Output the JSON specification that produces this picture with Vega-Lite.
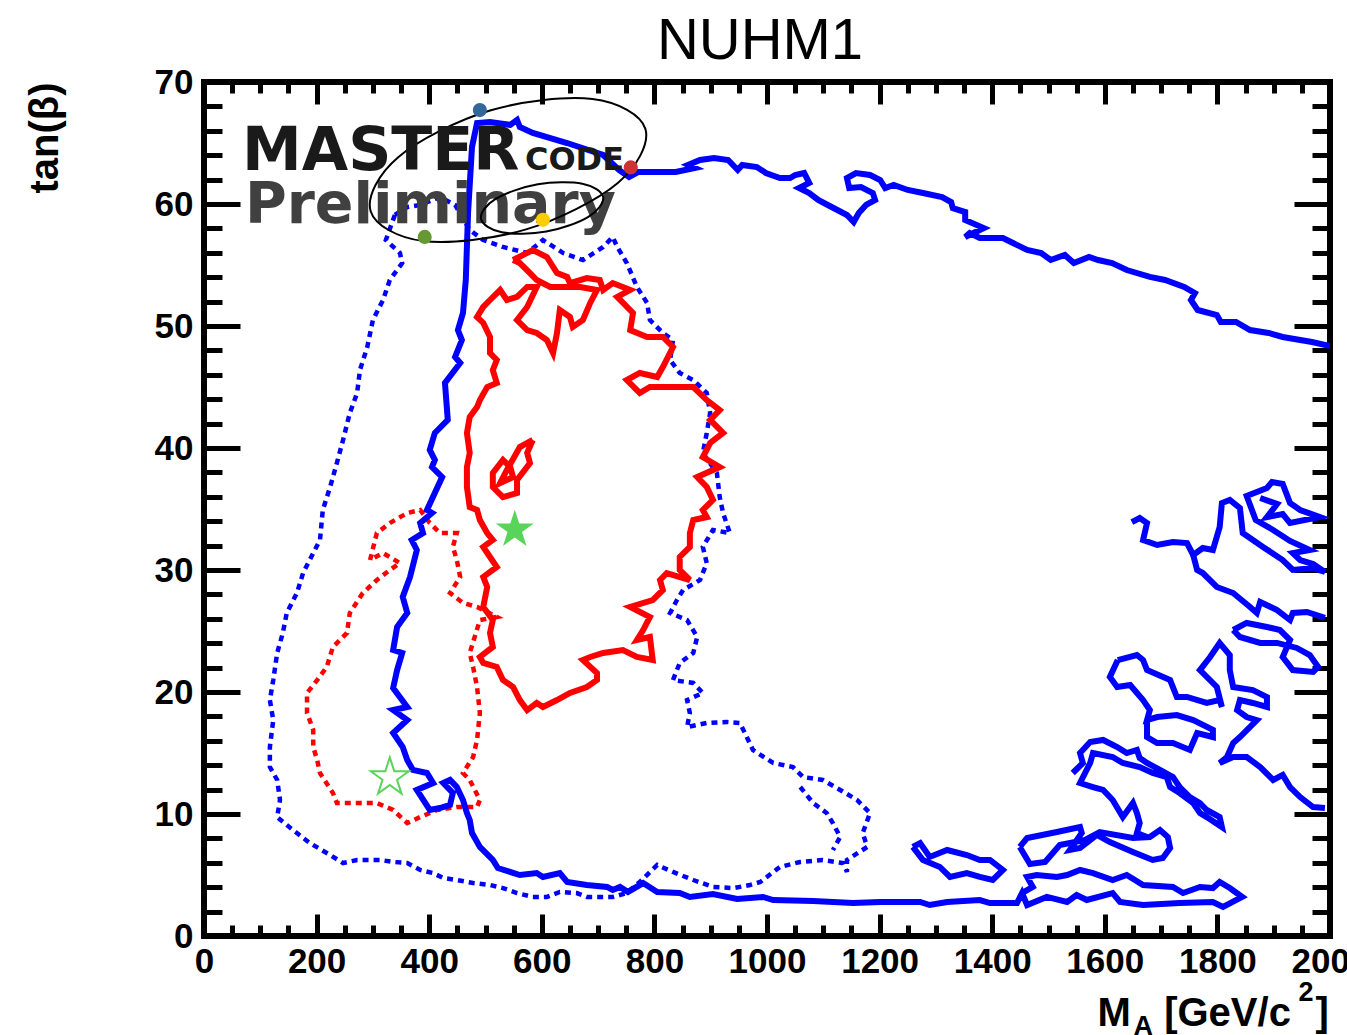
{
"$schema": "https://vega.github.io/schema/vega-lite/v6.json",
"width": 1126, "height": 854,
"autosize": {"type": "none"},
"padding": {"left": 204, "top": 82, "right": 17, "bottom": 99},
"background": "white",
"title": {"text": "NUHM1", "fontSize": 58, "font": "Liberation Sans", "fontWeight": "normal", "color": "black", "anchor": "middle", "frame": "group", "offset": 7, "baseline": "alphabetic", "dx": -7, "dy": 59},
"config": {
  "view": {"stroke": "black", "strokeWidth": 6},
  "axis": {"domain": false, "grid": false, "tickColor": "black", "tickWidth": 5, "tickCap": "butt", "labelFont": "Liberation Sans", "labelFontWeight": "bold", "labelFontSize": 35, "labelColor": "black", "labelFlush": false, "labelOverlap": false, "titleFont": "Liberation Sans", "titleFontWeight": "bold", "titleFontSize": 40, "titleColor": "black"}
},
"datasets": {
"bd": [
{"g":"a","x":339,"y":59.1},{"g":"a","x":323,"y":57.05},{"g":"a","x":348,"y":55.98},{"g":"a","x":352,"y":55.16},{"g":"a","x":330,"y":53.77},{"g":"a","x":318,"y":52.13},{"g":"a","x":300,"y":50.49},{"g":"a","x":290,"y":48.28},{"g":"a","x":277,"y":46.39},{"g":"a","x":272,"y":44.51},{"g":"a","x":259,"y":42.87},{"g":"a","x":247,"y":40.66},{"g":"a","x":236,"y":38.77},{"g":"a","x":224,"y":36.8},{"g":"a","x":211,"y":34.92},{"g":"a","x":206,"y":32.46},{"g":"a","x":194,"y":31.39},{"g":"a","x":176,"y":29.75},{"g":"a","x":165,"y":28.11},{"g":"a","x":147,"y":26.48},{"g":"a","x":140,"y":24.84},{"g":"a","x":130,"y":23.2},{"g":"a","x":123,"y":20.98},{"g":"a","x":117,"y":19.34},{"g":"a","x":123,"y":17.7},{"g":"a","x":117,"y":15.49},{"g":"a","x":117,"y":13.85},{"g":"a","x":130,"y":12.79},{"g":"a","x":135,"y":11.15},{"g":"a","x":130,"y":9.75},{"g":"a","x":158,"y":8.69},{"g":"a","x":188,"y":7.62},{"g":"a","x":224,"y":6.64},{"g":"a","x":247,"y":5.98},{"g":"a","x":272,"y":6.23},{"g":"a","x":313,"y":6.23},{"g":"a","x":336,"y":6.07},{"g":"a","x":361,"y":5.98},{"g":"a","x":384,"y":5.41},{"g":"a","x":407,"y":5.16},{"g":"a","x":425,"y":4.75},{"g":"a","x":449,"y":4.59},{"g":"a","x":478,"y":4.34},{"g":"a","x":508,"y":4.18},{"g":"a","x":531,"y":3.93},{"g":"a","x":556,"y":3.52},{"g":"a","x":584,"y":3.2},{"g":"a","x":609,"y":3.2},{"g":"a","x":632,"y":3.61},{"g":"a","x":662,"y":3.52},{"g":"a","x":680,"y":3.2},{"g":"a","x":726,"y":3.2},{"g":"a","x":751,"y":3.52},{"g":"a","x":774,"y":4.43},{"g":"a","x":805,"y":5.82},{"g":"a","x":833,"y":5.25},{"g":"a","x":869,"y":4.59},{"g":"a","x":904,"y":4.02},{"g":"a","x":940,"y":3.93},{"g":"a","x":970,"y":4.18},{"g":"a","x":988,"y":4.43},{"g":"a","x":1023,"y":5.66},{"g":"a","x":1059,"y":6.07},{"g":"a","x":1099,"y":6.23},{"g":"a","x":1135,"y":5.98},{"g":"a","x":1142,"y":5.25},{"g":"a","x":1142,"y":6.23},{"g":"a","x":1178,"y":7.3},{"g":"a","x":1170,"y":8.44},{"g":"a","x":1183,"y":10.08},{"g":"a","x":1160,"y":11.15},{"g":"a","x":1130,"y":11.97},{"g":"a","x":1099,"y":12.79},{"g":"a","x":1064,"y":13.03},{"g":"a","x":1046,"y":13.85},{"g":"a","x":1011,"y":14.18},{"g":"a","x":975,"y":15.25},{"g":"a","x":964,"y":16.31},{"g":"a","x":952,"y":17.46},{"g":"a","x":929,"y":17.54},{"g":"a","x":893,"y":17.46},{"g":"a","x":858,"y":17.13},{"g":"a","x":863,"y":18.28},{"g":"a","x":858,"y":19.34},{"g":"a","x":886,"y":19.92},{"g":"a","x":869,"y":20.74},{"g":"a","x":833,"y":20.98},{"g":"a","x":845,"y":22.38},{"g":"a","x":869,"y":23.2},{"g":"a","x":876,"y":24.51},{"g":"a","x":858,"y":25.9},{"g":"a","x":828,"y":26.48},{"g":"a","x":840,"y":27.54},{"g":"a","x":851,"y":28.36},{"g":"a","x":881,"y":29.18},{"g":"a","x":893,"y":30.57},{"g":"a","x":886,"y":31.89},{"g":"a","x":904,"y":33.28},{"g":"a","x":934,"y":33.03},{"g":"a","x":922,"y":34.67},{"g":"a","x":916,"y":35.98},{"g":"a","x":911,"y":37.95},{"g":"a","x":886,"y":39.59},{"g":"a","x":893,"y":41.23},{"g":"a","x":899,"y":42.87},{"g":"a","x":893,"y":44.51},{"g":"a","x":869,"y":45.57},{"g":"a","x":845,"y":46.15},{"g":"a","x":828,"y":47.21},{"g":"a","x":833,"y":48.85},{"g":"a","x":815,"y":49.43},{"g":"a","x":792,"y":50.49},{"g":"a","x":787,"y":51.89},{"g":"a","x":769,"y":53.2},{"g":"a","x":751,"y":55.16},{"g":"a","x":734,"y":56.48},{"g":"a","x":726,"y":57.3},{"g":"a","x":709,"y":56.48},{"g":"a","x":673,"y":55.41},{"g":"a","x":638,"y":55.98},{"g":"a","x":602,"y":57.05},{"g":"a","x":574,"y":55.98},{"g":"a","x":531,"y":56.48},{"g":"a","x":496,"y":57.05},{"g":"a","x":472,"y":57.87},{"g":"a","x":446,"y":59.92},{"g":"a","x":419,"y":60.57},{"g":"a","x":384,"y":59.92},{"g":"a","x":361,"y":59.75},{"g":"a","x":339,"y":59.1},
{"g":"b","x":1059,"y":12.21},{"g":"b","x":1082,"y":10.9},{"g":"b","x":1106,"y":10.08},{"g":"b","x":1117,"y":9.26},{"g":"b","x":1130,"y":8.11},{"g":"b","x":1117,"y":7.05}
],
"rd": [
{"g":"a","x":295,"y":30.82},{"g":"a","x":307,"y":33.03},{"g":"a","x":330,"y":33.85},{"g":"a","x":361,"y":34.67},{"g":"a","x":384,"y":34.92},{"g":"a","x":401,"y":33.85},{"g":"a","x":419,"y":33.03},{"g":"a","x":449,"y":33.03},{"g":"a","x":442,"y":31.89},{"g":"a","x":449,"y":30.82},{"g":"a","x":455,"y":29.43},{"g":"a","x":437,"y":28.11},{"g":"a","x":460,"y":27.3},{"g":"a","x":485,"y":26.97},{"g":"a","x":520,"y":26.15},{"g":"a","x":490,"y":25.9},{"g":"a","x":472,"y":23.2},{"g":"a","x":478,"y":22.05},{"g":"a","x":485,"y":20.41},{"g":"a","x":490,"y":18.28},{"g":"a","x":485,"y":16.07},{"g":"a","x":478,"y":14.67},{"g":"a","x":460,"y":13.36},{"g":"a","x":472,"y":12.79},{"g":"a","x":490,"y":11.15},{"g":"a","x":485,"y":10.57},{"g":"a","x":449,"y":10.57},{"g":"a","x":414,"y":10.33},{"g":"a","x":384,"y":9.75},{"g":"a","x":361,"y":9.26},{"g":"a","x":336,"y":10.33},{"g":"a","x":307,"y":10.9},{"g":"a","x":272,"y":10.9},{"g":"a","x":236,"y":10.9},{"g":"a","x":229,"y":11.72},{"g":"a","x":206,"y":13.36},{"g":"a","x":201,"y":14.43},{"g":"a","x":194,"y":15.49},{"g":"a","x":194,"y":16.89},{"g":"a","x":183,"y":18.28},{"g":"a","x":183,"y":19.92},{"g":"a","x":201,"y":20.98},{"g":"a","x":218,"y":22.05},{"g":"a","x":229,"y":23.69},{"g":"a","x":254,"y":24.84},{"g":"a","x":259,"y":26.48},{"g":"a","x":282,"y":28.11},{"g":"a","x":307,"y":29.18},{"g":"a","x":330,"y":30},{"g":"a","x":348,"y":30.57},{"g":"a","x":318,"y":31.39},{"g":"a","x":295,"y":30.82}
],
"bs": [
{"g":"b1","x":2000,"y":48.36},{"g":"b1","x":1968,"y":48.69},{"g":"b1","x":1916,"y":49.1},{"g":"b1","x":1891,"y":49.43},{"g":"b1","x":1858,"y":49.67},{"g":"b1","x":1833,"y":50.33},{"g":"b1","x":1806,"y":50.33},{"g":"b1","x":1799,"y":50.9},{"g":"b1","x":1765,"y":51.31},{"g":"b1","x":1753,"y":52.13},{"g":"b1","x":1760,"y":52.7},{"g":"b1","x":1741,"y":53.2},{"g":"b1","x":1707,"y":53.77},{"g":"b1","x":1680,"y":54.02},{"g":"b1","x":1639,"y":54.59},{"g":"b1","x":1613,"y":55.16},{"g":"b1","x":1588,"y":55.41},{"g":"b1","x":1572,"y":55.66},{"g":"b1","x":1545,"y":55.16},{"g":"b1","x":1529,"y":55.82},{"g":"b1","x":1504,"y":55.41},{"g":"b1","x":1487,"y":55.98},{"g":"b1","x":1462,"y":56.23},{"g":"b1","x":1437,"y":56.8},{"g":"b1","x":1419,"y":57.21},{"g":"b1","x":1378,"y":57.21},{"g":"b1","x":1360,"y":57.62},{"g":"b1","x":1352,"y":57.3},{"g":"b1","x":1385,"y":58.03},{"g":"b1","x":1352,"y":58.69},{"g":"b1","x":1352,"y":59.34},{"g":"b1","x":1330,"y":59.67},{"g":"b1","x":1327,"y":60.16},{"g":"b1","x":1311,"y":60.57},{"g":"b1","x":1277,"y":60.9},{"g":"b1","x":1250,"y":61.15},{"g":"b1","x":1225,"y":61.56},{"g":"b1","x":1210,"y":61.31},{"g":"b1","x":1201,"y":61.97},{"g":"b1","x":1183,"y":62.38},{"g":"b1","x":1158,"y":62.54},{"g":"b1","x":1142,"y":62.13},{"g":"b1","x":1146,"y":61.31},{"g":"b1","x":1167,"y":61.39},{"g":"b1","x":1188,"y":60.9},{"g":"b1","x":1192,"y":60.33},{"g":"b1","x":1176,"y":59.92},{"g":"b1","x":1163,"y":59.26},{"g":"b1","x":1154,"y":58.52},{"g":"b1","x":1142,"y":59.1},{"g":"b1","x":1108,"y":59.92},{"g":"b1","x":1091,"y":60.33},{"g":"b1","x":1075,"y":60.9},{"g":"b1","x":1057,"y":61.31},{"g":"b1","x":1075,"y":61.72},{"g":"b1","x":1066,"y":62.54},{"g":"b1","x":1050,"y":62.38},{"g":"b1","x":1041,"y":62.13},{"g":"b1","x":1023,"y":62.13},{"g":"b1","x":998,"y":62.54},{"g":"b1","x":982,"y":63.03},{"g":"b1","x":956,"y":63.2},{"g":"b1","x":948,"y":62.79},{"g":"b1","x":931,"y":63.61},{"g":"b1","x":906,"y":63.77},{"g":"b1","x":881,"y":63.61},{"g":"b1","x":860,"y":63.2},{"g":"b1","x":872,"y":62.95},{"g":"b1","x":838,"y":62.62},{"g":"b1","x":805,"y":62.62},{"g":"b1","x":771,"y":62.62},{"g":"b1","x":755,"y":62.21},{"g":"b1","x":737,"y":62.79},{"g":"b1","x":709,"y":64.02},{"g":"b1","x":645,"y":65},{"g":"b1","x":584,"y":65.82},{"g":"b1","x":561,"y":66.31},{"g":"b1","x":556,"y":66.89},{"g":"b1","x":544,"y":66.48},{"g":"b1","x":508,"y":66.72},{"g":"b1","x":485,"y":66.64},{"g":"b1","x":476,"y":64.67},{"g":"b1","x":469,"y":59.26},{"g":"b1","x":465,"y":53.77},{"g":"b1","x":460,"y":51.07},{"g":"b1","x":451,"y":49.67},{"g":"b1","x":458,"y":48.85},{"g":"b1","x":446,"y":47.46},{"g":"b1","x":455,"y":46.97},{"g":"b1","x":428,"y":45.33},{"g":"b1","x":433,"y":42.3},{"g":"b1","x":410,"y":41.23},{"g":"b1","x":401,"y":39.84},{"g":"b1","x":410,"y":39.02},{"g":"b1","x":405,"y":38.44},{"g":"b1","x":423,"y":37.62},{"g":"b1","x":396,"y":34.92},{"g":"b1","x":405,"y":34.67},{"g":"b1","x":384,"y":33.85},{"g":"b1","x":389,"y":33.03},{"g":"b1","x":369,"y":32.46},{"g":"b1","x":378,"y":31.64},{"g":"b1","x":366,"y":29.43},{"g":"b1","x":353,"y":27.79},{"g":"b1","x":361,"y":26.48},{"g":"b1","x":343,"y":25.33},{"g":"b1","x":336,"y":23.44},{"g":"b1","x":352,"y":23.2},{"g":"b1","x":343,"y":21.8},{"g":"b1","x":336,"y":20.33},{"g":"b1","x":361,"y":18.77},{"g":"b1","x":336,"y":18.52},{"g":"b1","x":361,"y":17.7},{"g":"b1","x":336,"y":16.64},{"g":"b1","x":353,"y":15.49},{"g":"b1","x":361,"y":14.43},{"g":"b1","x":371,"y":13.61},{"g":"b1","x":396,"y":13.36},{"g":"b1","x":407,"y":12.54},{"g":"b1","x":378,"y":11.97},{"g":"b1","x":401,"y":10.33},{"g":"b1","x":419,"y":10.49},{"g":"b1","x":437,"y":10.74},{"g":"b1","x":442,"y":11.72},{"g":"b1","x":425,"y":12.54},{"g":"b1","x":437,"y":12.79},{"g":"b1","x":449,"y":12.21},{"g":"b1","x":460,"y":11.15},{"g":"b1","x":467,"y":10.08},{"g":"b1","x":472,"y":9.51},{"g":"b1","x":476,"y":8.44},{"g":"b1","x":490,"y":7.3},{"g":"b1","x":513,"y":6.23},{"g":"b1","x":522,"y":5.57},{"g":"b1","x":561,"y":5},{"g":"b1","x":591,"y":5.16},{"g":"b1","x":602,"y":4.84},{"g":"b1","x":632,"y":5.16},{"g":"b1","x":645,"y":4.43},{"g":"b1","x":680,"y":4.18},{"g":"b1","x":716,"y":4.02},{"g":"b1","x":726,"y":3.77},{"g":"b1","x":739,"y":4.02},{"g":"b1","x":753,"y":3.61},{"g":"b1","x":780,"y":4.34},{"g":"b1","x":805,"y":3.61},{"g":"b1","x":845,"y":3.52},{"g":"b1","x":863,"y":3.2},{"g":"b1","x":904,"y":3.44},{"g":"b1","x":947,"y":3.03},{"g":"b1","x":993,"y":3.2},{"g":"b1","x":1011,"y":2.95},{"g":"b1","x":1082,"y":2.87},{"g":"b1","x":1153,"y":2.7},{"g":"b1","x":1201,"y":2.79},{"g":"b1","x":1272,"y":2.79},{"g":"b1","x":1289,"y":2.54},{"g":"b1","x":1320,"y":2.79},{"g":"b1","x":1378,"y":2.95},{"g":"b1","x":1396,"y":2.7},{"g":"b1","x":1444,"y":2.7},{"g":"b1","x":1453,"y":3.52},{"g":"b1","x":1462,"y":2.54},{"g":"b1","x":1497,"y":3.2},{"g":"b1","x":1533,"y":2.79},{"g":"b1","x":1550,"y":3.36},{"g":"b1","x":1568,"y":2.95},{"g":"b1","x":1614,"y":3.52},{"g":"b1","x":1627,"y":2.79},{"g":"b1","x":1668,"y":2.54},{"g":"b1","x":1733,"y":2.7},{"g":"b1","x":1792,"y":2.79},{"g":"b1","x":1810,"y":2.38},{"g":"b1","x":1844,"y":3.2},{"g":"b1","x":1822,"y":3.93},{"g":"b1","x":1804,"y":4.43},{"g":"b1","x":1792,"y":3.93},{"g":"b1","x":1769,"y":4.02},{"g":"b1","x":1739,"y":3.52},{"g":"b1","x":1721,"y":4.02},{"g":"b1","x":1668,"y":4.18},{"g":"b1","x":1639,"y":5},{"g":"b1","x":1614,"y":4.59},{"g":"b1","x":1579,"y":5.16},{"g":"b1","x":1556,"y":5.41},{"g":"b1","x":1533,"y":5},{"g":"b1","x":1515,"y":4.84},{"g":"b1","x":1479,"y":5},{"g":"b1","x":1462,"y":4.84},{"g":"b1","x":1472,"y":4.02},{"g":"b1","x":1453,"y":3.52},
{"g":"b2","x":1449,"y":7.3},{"g":"b2","x":1462,"y":8.03},{"g":"b2","x":1515,"y":8.52},{"g":"b2","x":1556,"y":8.93},{"g":"b2","x":1559,"y":8.44},{"g":"b2","x":1538,"y":7.05},{"g":"b2","x":1556,"y":7.21},{"g":"b2","x":1586,"y":8.28},{"g":"b2","x":1609,"y":7.7},{"g":"b2","x":1650,"y":6.89},{"g":"b2","x":1685,"y":6.23},{"g":"b2","x":1703,"y":6.39},{"g":"b2","x":1716,"y":7.21},{"g":"b2","x":1712,"y":8.11},{"g":"b2","x":1698,"y":8.69},{"g":"b2","x":1680,"y":8.11},{"g":"b2","x":1650,"y":8.03},{"g":"b2","x":1591,"y":8.52},{"g":"b2","x":1565,"y":7.87},{"g":"b2","x":1520,"y":7.46},{"g":"b2","x":1494,"y":6.07},{"g":"b2","x":1467,"y":5.9},{"g":"b2","x":1449,"y":7.3},
{"g":"b3","x":1259,"y":7.3},{"g":"b3","x":1272,"y":7.62},{"g":"b3","x":1289,"y":6.48},{"g":"b3","x":1320,"y":7.05},{"g":"b3","x":1355,"y":6.64},{"g":"b3","x":1378,"y":6.23},{"g":"b3","x":1396,"y":6.23},{"g":"b3","x":1419,"y":5.41},{"g":"b3","x":1401,"y":4.59},{"g":"b3","x":1378,"y":4.84},{"g":"b3","x":1355,"y":5.16},{"g":"b3","x":1325,"y":4.84},{"g":"b3","x":1307,"y":5.66},{"g":"b3","x":1277,"y":6.23},{"g":"b3","x":1259,"y":7.3},
{"g":"r1a","x":1648,"y":33.93},{"g":"r1a","x":1662,"y":34.26},{"g":"r1a","x":1675,"y":33.85},{"g":"r1a","x":1668,"y":32.46},{"g":"r1a","x":1693,"y":32.05},{"g":"r1a","x":1721,"y":32.3},{"g":"r1a","x":1746,"y":32.21},{"g":"r1a","x":1757,"y":31.23},{"g":"r1a","x":1774,"y":31.8},{"g":"r1a","x":1792,"y":31.64},{"g":"r1a","x":1804,"y":33.52},{"g":"r1a","x":1808,"y":35.49},{"g":"r1a","x":1822,"y":35.74},{"g":"r1a","x":1840,"y":35.08},{"g":"r1a","x":1845,"y":33.03},{"g":"r1a","x":1881,"y":31.89},{"g":"r1a","x":1916,"y":30.82},{"g":"r1a","x":1934,"y":30},{"g":"r1a","x":1970,"y":30.16},{"g":"r1a","x":1991,"y":29.84},{"g":"r1a","x":1970,"y":30.49},{"g":"r1a","x":1947,"y":30.82},{"g":"r1a","x":1934,"y":31.39},{"g":"r1a","x":1964,"y":31.64},{"g":"r1a","x":1929,"y":32.38},{"g":"r1a","x":1899,"y":33.28},{"g":"r1a","x":1868,"y":34.1},{"g":"r1a","x":1852,"y":36.07},{"g":"r1a","x":1888,"y":36.72},{"g":"r1a","x":1897,"y":37.21},{"g":"r1a","x":1916,"y":37.05},{"g":"r1a","x":1929,"y":35.49},{"g":"r1a","x":1947,"y":34.92},{"g":"r1a","x":1982,"y":34.34},{"g":"r1a","x":1929,"y":33.85},{"g":"r1a","x":1916,"y":34.59},{"g":"r1a","x":1888,"y":34.34},{"g":"r1a","x":1906,"y":35.41},{"g":"r1a","x":1876,"y":35.9},
{"g":"r1b","x":1757,"y":31.23},{"g":"r1b","x":1764,"y":30},{"g":"r1b","x":1774,"y":29.75},{"g":"r1b","x":1799,"y":28.61},{"g":"r1b","x":1828,"y":28.11},{"g":"r1b","x":1858,"y":26.97},{"g":"r1b","x":1870,"y":26.48},{"g":"r1b","x":1876,"y":27.38},{"g":"r1b","x":1906,"y":26.72},{"g":"r1b","x":1929,"y":25.9},{"g":"r1b","x":1934,"y":26.48},{"g":"r1b","x":1959,"y":26.56},{"g":"r1b","x":1991,"y":26.07},
{"g":"r1c","x":1828,"y":25.08},{"g":"r1c","x":1852,"y":25.66},{"g":"r1c","x":1888,"y":25.33},{"g":"r1c","x":1911,"y":25.08},{"g":"r1c","x":1929,"y":24.26},{"g":"r1c","x":1916,"y":22.87},{"g":"r1c","x":1934,"y":21.8},{"g":"r1c","x":1970,"y":21.64},{"g":"r1c","x":1979,"y":22.05},{"g":"r1c","x":1964,"y":23.03},{"g":"r1c","x":1941,"y":23.61},{"g":"r1c","x":1906,"y":24.02},{"g":"r1c","x":1876,"y":24.02},{"g":"r1c","x":1840,"y":24.51},{"g":"r1c","x":1828,"y":25.08},
{"g":"r2a","x":1623,"y":22.62},{"g":"r2a","x":1657,"y":23.03},{"g":"r2a","x":1668,"y":22.62},{"g":"r2a","x":1675,"y":21.8},{"g":"r2a","x":1716,"y":20.98},{"g":"r2a","x":1728,"y":19.59},{"g":"r2a","x":1746,"y":19.59},{"g":"r2a","x":1781,"y":19.1},{"g":"r2a","x":1804,"y":19.34},{"g":"r2a","x":1808,"y":18.77},{"g":"r2a","x":1799,"y":20.41},{"g":"r2a","x":1769,"y":21.8},{"g":"r2a","x":1787,"y":22.87},{"g":"r2a","x":1804,"y":24.02},{"g":"r2a","x":1822,"y":23.03},{"g":"r2a","x":1822,"y":21.8},{"g":"r2a","x":1828,"y":20.41},{"g":"r2a","x":1863,"y":20.16},{"g":"r2a","x":1888,"y":19.59},{"g":"r2a","x":1888,"y":18.77},{"g":"r2a","x":1863,"y":19.1},{"g":"r2a","x":1840,"y":19.34},{"g":"r2a","x":1835,"y":18.52},{"g":"r2a","x":1852,"y":17.95},{"g":"r2a","x":1870,"y":17.7},{"g":"r2a","x":1840,"y":16.31},{"g":"r2a","x":1828,"y":15.82},{"g":"r2a","x":1817,"y":14.67},{"g":"r2a","x":1804,"y":14.18},{"g":"r2a","x":1828,"y":14.67},{"g":"r2a","x":1852,"y":14.67},{"g":"r2a","x":1876,"y":13.85},{"g":"r2a","x":1899,"y":12.79},{"g":"r2a","x":1916,"y":13.2},{"g":"r2a","x":1929,"y":12.21},{"g":"r2a","x":1947,"y":11.39},{"g":"r2a","x":1970,"y":10.57},{"g":"r2a","x":1991,"y":10.49},
{"g":"r2b","x":1623,"y":22.62},{"g":"r2b","x":1609,"y":21.23},{"g":"r2b","x":1622,"y":20.41},{"g":"r2b","x":1645,"y":20.57},{"g":"r2b","x":1668,"y":19.34},{"g":"r2b","x":1680,"y":18.52},{"g":"r2b","x":1675,"y":17.7},{"g":"r2b","x":1693,"y":17.95},{"g":"r2b","x":1728,"y":18.11},{"g":"r2b","x":1757,"y":17.7},{"g":"r2b","x":1792,"y":16.89},{"g":"r2b","x":1792,"y":16.31},{"g":"r2b","x":1764,"y":16.64},{"g":"r2b","x":1751,"y":15.25},{"g":"r2b","x":1721,"y":15.82},{"g":"r2b","x":1693,"y":15.82},{"g":"r2b","x":1675,"y":16.31},{"g":"r2b","x":1675,"y":17.7},
{"g":"r3","x":1543,"y":13.36},{"g":"r3","x":1561,"y":14.18},{"g":"r3","x":1556,"y":15},{"g":"r3","x":1574,"y":15.9},{"g":"r3","x":1597,"y":16.07},{"g":"r3","x":1622,"y":15.49},{"g":"r3","x":1639,"y":15},{"g":"r3","x":1657,"y":15.25},{"g":"r3","x":1662,"y":14.59},{"g":"r3","x":1675,"y":14.18},{"g":"r3","x":1698,"y":13.61},{"g":"r3","x":1721,"y":13.03},{"g":"r3","x":1733,"y":12.21},{"g":"r3","x":1751,"y":11.39},{"g":"r3","x":1769,"y":10.9},{"g":"r3","x":1781,"y":10.33},{"g":"r3","x":1804,"y":9.75},{"g":"r3","x":1808,"y":8.93},{"g":"r3","x":1781,"y":9.75},{"g":"r3","x":1769,"y":10.08},{"g":"r3","x":1757,"y":10.9},{"g":"r3","x":1733,"y":11.72},{"g":"r3","x":1716,"y":12.21},{"g":"r3","x":1710,"y":13.03},{"g":"r3","x":1685,"y":13.36},{"g":"r3","x":1662,"y":13.85},{"g":"r3","x":1632,"y":14.18},{"g":"r3","x":1614,"y":14.67},{"g":"r3","x":1579,"y":15},{"g":"r3","x":1574,"y":14.18},{"g":"r3","x":1556,"y":12.54},{"g":"r3","x":1579,"y":12.21},{"g":"r3","x":1597,"y":11.97},{"g":"r3","x":1614,"y":11.15},{"g":"r3","x":1632,"y":9.75},{"g":"r3","x":1650,"y":10.9},{"g":"r3","x":1657,"y":10.08},{"g":"r3","x":1662,"y":9.26},{"g":"r3","x":1657,"y":8.44},{"g":"r3","x":1675,"y":8.11}
],
"rs": [
{"g":"a","x":549,"y":55.41},{"g":"a","x":584,"y":56.23},{"g":"a","x":609,"y":55.66},{"g":"a","x":627,"y":54.34},{"g":"a","x":645,"y":54.02},{"g":"a","x":650,"y":53.52},{"g":"a","x":680,"y":53.93},{"g":"a","x":703,"y":53.77},{"g":"a","x":709,"y":52.95},{"g":"a","x":726,"y":53.52},{"g":"a","x":757,"y":52.95},{"g":"a","x":734,"y":52.38},{"g":"a","x":762,"y":51.07},{"g":"a","x":757,"y":49.67},{"g":"a","x":787,"y":49.1},{"g":"a","x":815,"y":49.1},{"g":"a","x":833,"y":48.28},{"g":"a","x":815,"y":46.64},{"g":"a","x":805,"y":45.82},{"g":"a","x":774,"y":46.15},{"g":"a","x":751,"y":45.57},{"g":"a","x":774,"y":44.51},{"g":"a","x":792,"y":45},{"g":"a","x":822,"y":45},{"g":"a","x":869,"y":45},{"g":"a","x":893,"y":43.93},{"g":"a","x":916,"y":43.11},{"g":"a","x":899,"y":42.3},{"g":"a","x":922,"y":41.23},{"g":"a","x":899,"y":40.41},{"g":"a","x":886,"y":39.26},{"g":"a","x":916,"y":38.44},{"g":"a","x":876,"y":37.62},{"g":"a","x":893,"y":36.8},{"g":"a","x":904,"y":35.74},{"g":"a","x":886,"y":34.92},{"g":"a","x":893,"y":34.34},{"g":"a","x":869,"y":34.1},{"g":"a","x":863,"y":33.03},{"g":"a","x":863,"y":31.89},{"g":"a","x":845,"y":31.07},{"g":"a","x":845,"y":30},{"g":"a","x":863,"y":29.18},{"g":"a","x":822,"y":29.75},{"g":"a","x":810,"y":29.18},{"g":"a","x":815,"y":28.36},{"g":"a","x":797,"y":27.54},{"g":"a","x":757,"y":26.97},{"g":"a","x":792,"y":26.15},{"g":"a","x":780,"y":25.08},{"g":"a","x":769,"y":24.26},{"g":"a","x":792,"y":24.51},{"g":"a","x":797,"y":22.62},{"g":"a","x":769,"y":22.87},{"g":"a","x":744,"y":23.44},{"g":"a","x":709,"y":23.2},{"g":"a","x":686,"y":22.87},{"g":"a","x":673,"y":22.62},{"g":"a","x":698,"y":21.56},{"g":"a","x":698,"y":20.98},{"g":"a","x":680,"y":20.41},{"g":"a","x":650,"y":19.92},{"g":"a","x":627,"y":19.34},{"g":"a","x":602,"y":18.77},{"g":"a","x":591,"y":19.1},{"g":"a","x":574,"y":18.52},{"g":"a","x":561,"y":19.34},{"g":"a","x":549,"y":20.41},{"g":"a","x":531,"y":20.98},{"g":"a","x":520,"y":22.05},{"g":"a","x":496,"y":22.38},{"g":"a","x":490,"y":22.87},{"g":"a","x":513,"y":23.69},{"g":"a","x":508,"y":24.84},{"g":"a","x":513,"y":25.9},{"g":"a","x":496,"y":26.97},{"g":"a","x":503,"y":28.61},{"g":"a","x":496,"y":29.43},{"g":"a","x":520,"y":30.25},{"g":"a","x":508,"y":31.07},{"g":"a","x":496,"y":31.89},{"g":"a","x":513,"y":32.46},{"g":"a","x":503,"y":33.03},{"g":"a","x":490,"y":34.1},{"g":"a","x":485,"y":34.92},{"g":"a","x":472,"y":35.16},{"g":"a","x":467,"y":36.8},{"g":"a","x":467,"y":38.44},{"g":"a","x":472,"y":39.59},{"g":"a","x":467,"y":41.23},{"g":"a","x":472,"y":42.54},{"g":"a","x":485,"y":43.36},{"g":"a","x":490,"y":43.93},{"g":"a","x":503,"y":45},{"g":"a","x":520,"y":45.33},{"g":"a","x":513,"y":46.39},{"g":"a","x":520,"y":47.21},{"g":"a","x":508,"y":47.79},{"g":"a","x":508,"y":49.1},{"g":"a","x":496,"y":50.25},{"g":"a","x":485,"y":50.74},{"g":"a","x":496,"y":51.56},{"g":"a","x":508,"y":52.13},{"g":"a","x":526,"y":52.95},{"g":"a","x":538,"y":52.13},{"g":"a","x":556,"y":52.38},{"g":"a","x":574,"y":53.2},{"g":"a","x":591,"y":53.2},{"g":"a","x":574,"y":51.56},{"g":"a","x":556,"y":50.49},{"g":"a","x":574,"y":49.67},{"g":"a","x":591,"y":49.43},{"g":"a","x":609,"y":48.85},{"g":"a","x":620,"y":47.79},{"g":"a","x":627,"y":49.43},{"g":"a","x":632,"y":51.31},{"g":"a","x":650,"y":50.74},{"g":"a","x":655,"y":49.92},{"g":"a","x":673,"y":50.49},{"g":"a","x":686,"y":51.89},{"g":"a","x":698,"y":52.95},{"g":"a","x":668,"y":53.2},{"g":"a","x":615,"y":53.2},{"g":"a","x":591,"y":53.77},{"g":"a","x":579,"y":54.34},{"g":"a","x":561,"y":55.16},{"g":"a","x":549,"y":55.41},
{"g":"b","x":584,"y":40.66},{"g":"b","x":574,"y":39.59},{"g":"b","x":579,"y":38.77},{"g":"b","x":556,"y":37.38},{"g":"b","x":556,"y":36.31},{"g":"b","x":531,"y":35.98},{"g":"b","x":513,"y":36.8},{"g":"b","x":513,"y":37.95},{"g":"b","x":531,"y":39.02},{"g":"b","x":544,"y":38.44},{"g":"b","x":549,"y":37.62},{"g":"b","x":526,"y":37.13},{"g":"b","x":538,"y":38.2},{"g":"b","x":561,"y":40.08},{"g":"b","x":584,"y":40.66}
],
"el": [
{"g":"big","x":784,"y":66.16},{"g":"big","x":735,"y":61.73},{"g":"big","x":572,"y":57.92},{"g":"big","x":390,"y":56.96},{"g":"big","x":296,"y":59.41},{"g":"big","x":345,"y":63.84},{"g":"big","x":508,"y":67.66},{"g":"big","x":690,"y":68.61},
{"g":"small","x":709,"y":60.56},{"g":"small","x":682,"y":58.93},{"g":"small","x":608,"y":57.74},{"g":"small","x":529,"y":57.68},{"g":"small","x":492,"y":58.79},{"g":"small","x":518,"y":60.42},{"g":"small","x":593,"y":61.61},{"g":"small","x":672,"y":61.66}
]
},
"layer": [
{
  "data": {"name": "bd"},
  "mark": {"type": "line", "color": "#0000ff", "strokeWidth": 4.5, "strokeDash": [6, 5], "clip": true},
  "encoding": {
    "x": {"field": "x", "type": "quantitative", "scale": {"domain": [0, 2000], "nice": false, "zero": false},
      "axis": {"orient": "bottom", "values": [0,200,400,600,800,1000,1200,1400,1600,1800,2000], "format": "d", "tickSize": -22, "labelPadding": 30, "title": "M\u00a0\u00a0\u00a0[GeV/c", "titleX": 893, "titleY": 89, "titleAlign": "left", "titleBaseline": "alphabetic", "titleFontSize": 40}},
    "y": {"field": "y", "type": "quantitative", "scale": {"domain": [0, 70], "nice": false, "zero": false},
      "axis": {"orient": "left", "values": [0,10,20,30,40,50,60,70], "format": "d", "tickSize": -36, "labelPadding": 47, "title": "tan(β)", "titleX": -159, "titleY": 0, "titleAngle": -90, "titleAlign": "right", "titleBaseline": "middle", "titleFontSize": 40}},
    "detail": {"field": "g"},
    "order": {"value": null}
  }
},
{
  "data": {"name": "rd"},
  "mark": {"type": "line", "color": "#ff0000", "strokeWidth": 4.5, "strokeDash": [6, 5], "clip": true},
  "encoding": {
    "x": {"field": "x", "type": "quantitative",
      "axis": {"orient": "bottom", "values": [0,50,100,150,200,250,300,350,400,450,500,550,600,650,700,750,800,850,900,950,1000,1050,1100,1150,1200,1250,1300,1350,1400,1450,1500,1550,1600,1650,1700,1750,1800,1850,1900,1950,2000], "tickSize": -11, "labels": false, "title": "A", "titleX": 929, "titleY": 98, "titleAlign": "left", "titleBaseline": "alphabetic", "titleFontSize": 27}},
    "y": {"field": "y", "type": "quantitative",
      "axis": {"orient": "left", "values": [0,2,4,6,8,10,12,14,16,18,20,22,24,26,28,30,32,34,36,38,40,42,44,46,48,50,52,54,56,58,60,62,64,66,68,70], "tickSize": -18, "labels": false, "title": "2", "titleX": 1094, "titleY": 918, "titleAngle": 0, "titleAlign": "left", "titleBaseline": "alphabetic", "titleFontSize": 27}},
    "detail": {"field": "g"},
    "order": {"value": null}
  }
},
{
  "data": {"name": "bs"},
  "mark": {"type": "line", "color": "#0000ff", "strokeWidth": 6, "clip": true, "strokeJoin": "miter"},
  "encoding": {
    "x": {"field": "x", "type": "quantitative",
      "axis": {"orient": "top", "values": [0,200,400,600,800,1000,1200,1400,1600,1800,2000], "tickSize": -22, "labels": false, "title": null}},
    "y": {"field": "y", "type": "quantitative",
      "axis": {"orient": "right", "values": [0,10,20,30,40,50,60,70], "tickSize": -36, "labels": false, "title": "]", "titleX": -15, "titleY": 943, "titleAngle": 0, "titleAlign": "left", "titleBaseline": "alphabetic", "titleFontSize": 40}},
    "detail": {"field": "g"},
    "order": {"value": null}
  }
},
{
  "data": {"name": "rs"},
  "mark": {"type": "line", "color": "#ff0000", "strokeWidth": 6, "clip": true, "strokeJoin": "miter"},
  "encoding": {
    "x": {"field": "x", "type": "quantitative",
      "axis": {"orient": "top", "values": [0,50,100,150,200,250,300,350,400,450,500,550,600,650,700,750,800,850,900,950,1000,1050,1100,1150,1200,1250,1300,1350,1400,1450,1500,1550,1600,1650,1700,1750,1800,1850,1900,1950,2000], "tickSize": -11, "labels": false, "title": null}},
    "y": {"field": "y", "type": "quantitative",
      "axis": {"orient": "right", "values": [0,2,4,6,8,10,12,14,16,18,20,22,24,26,28,30,32,34,36,38,40,42,44,46,48,50,52,54,56,58,60,62,64,66,68,70], "tickSize": -18, "labels": false, "title": null}},
    "detail": {"field": "g"},
    "order": {"value": null}
  }
},
{
  "data": {"values": [{"x": 552, "y": 33.3}]},
  "mark": {"type": "point", "shape": "M0,-1L0.2245,-0.309L0.951,-0.309L0.3633,0.118L0.5878,0.809L0,0.382L-0.5878,0.809L-0.3633,0.118L-0.951,-0.309L-0.2245,-0.309Z", "size": 1600, "filled": true, "color": "#5ad35a", "opacity": 1},
  "encoding": {"x": {"field": "x", "type": "quantitative", "axis": null}, "y": {"field": "y", "type": "quantitative", "axis": null}}
},
{
  "data": {"values": [{"x": 330, "y": 13.0}]},
  "mark": {"type": "point", "shape": "M0,-1L0.2245,-0.309L0.951,-0.309L0.3633,0.118L0.5878,0.809L0,0.382L-0.5878,0.809L-0.3633,0.118L-0.951,-0.309L-0.2245,-0.309Z", "size": 1600, "filled": false, "stroke": "#5ad35a", "strokeWidth": 2, "opacity": 1},
  "encoding": {"x": {"field": "x", "type": "quantitative", "axis": null}, "y": {"field": "y", "type": "quantitative", "axis": null}}
},
{
  "data": {"values": [{"t": "Preliminary", "x": 72.8, "y": 58.44}]},
  "mark": {"type": "text", "font": "DejaVu Sans", "fontWeight": "bold", "fontSize": 57, "color": "#404040", "align": "left", "baseline": "alphabetic"},
  "encoding": {"x": {"field": "x", "type": "quantitative", "axis": null}, "y": {"field": "y", "type": "quantitative", "axis": null}, "text": {"field": "t"}}
},
{
  "data": {"name": "el"},
  "mark": {"type": "line", "color": "black", "strokeWidth": 2, "interpolate": "cardinal-closed"},
  "encoding": {
    "x": {"field": "x", "type": "quantitative", "axis": null},
    "y": {"field": "y", "type": "quantitative", "axis": null},
    "detail": {"field": "g"},
    "order": {"value": null}
  }
},
{
  "data": {"values": [{"c": "b", "x": 490, "y": 67.7}, {"c": "r", "x": 758, "y": 63.0}, {"c": "y", "x": 602, "y": 58.7}, {"c": "g", "x": 392, "y": 57.3}]},
  "mark": {"type": "circle", "size": 200, "opacity": 1},
  "encoding": {
    "x": {"field": "x", "type": "quantitative", "axis": null},
    "y": {"field": "y", "type": "quantitative", "axis": null},
    "color": {"field": "c", "type": "nominal", "scale": {"domain": ["b", "r", "y", "g"], "range": ["#336699", "#cc3333", "#ffcc00", "#669933"]}, "legend": null}
  }
},
{
  "data": {"values": [{"t": "MASTER", "x": 67.5, "y": 62.8}]},
  "mark": {"type": "text", "font": "DejaVu Sans", "fontWeight": "bold", "fontSize": 60, "color": "#1a1a1a", "align": "left", "baseline": "alphabetic"},
  "encoding": {"x": {"field": "x", "type": "quantitative", "axis": null}, "y": {"field": "y", "type": "quantitative", "axis": null}, "text": {"field": "t"}}
},
{
  "data": {"values": [{"t": "CODE", "x": 570, "y": 62.8}]},
  "mark": {"type": "text", "font": "DejaVu Sans", "fontWeight": "bold", "fontSize": 32, "color": "#1a1a1a", "align": "left", "baseline": "alphabetic"},
  "encoding": {"x": {"field": "x", "type": "quantitative", "axis": null}, "y": {"field": "y", "type": "quantitative", "axis": null}, "text": {"field": "t"}}
}
],
"resolve": {"axis": {"x": "independent", "y": "independent"}}
}
